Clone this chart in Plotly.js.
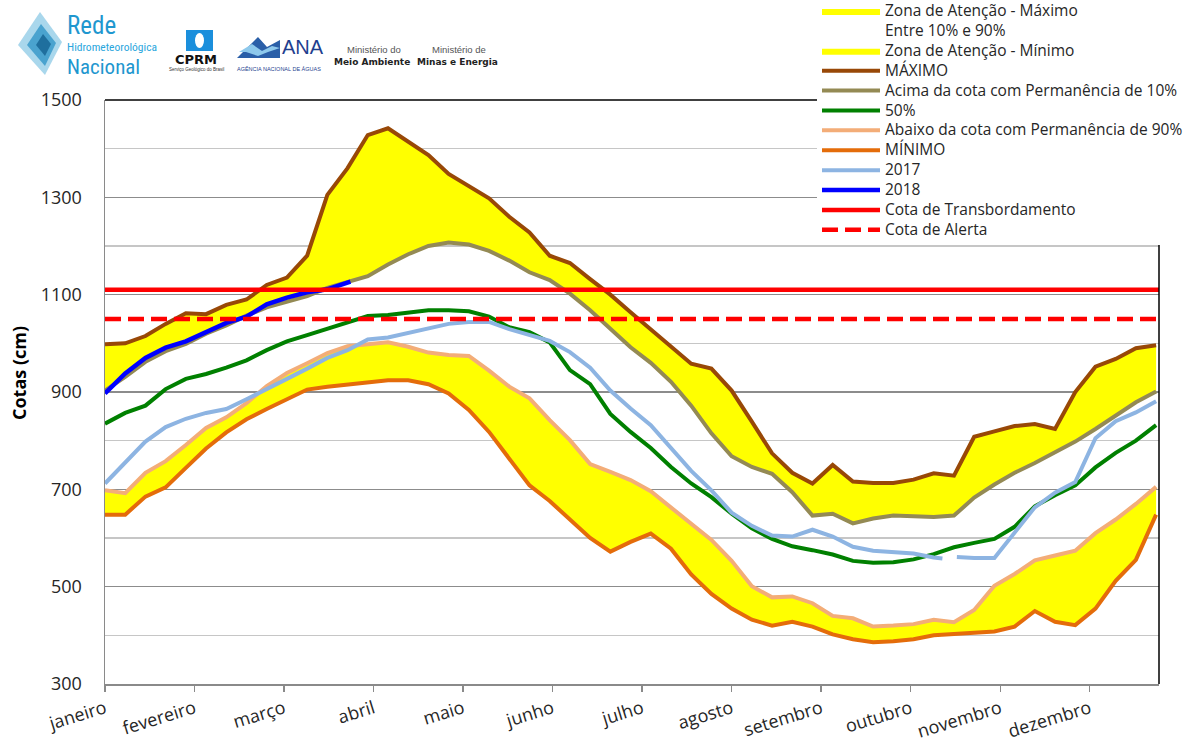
<!DOCTYPE html>
<html>
<head>
<meta charset="utf-8">
<script src="https://cdn.plot.ly/plotly-3.0.1.min.js"></script>
<style>
html,body{margin:0;padding:0;background:#fff;}
#chart{width:1192px;height:747px;}
</style>
</head>
<body>
<div id="chart"></div>
<script>
// ---------- DATA ----------
const MESES = ['janeiro','fevereiro','março','abril','maio','junho','julho','agosto','setembro','outubro','novembro','dezembro'];
const TICK_DIAS = [0,31,62,93,124,155,186,217,248,279,310,341];
const Y_TICKS = [300,500,700,900,1100,1300,1500];

const DIAS = [0,7,14,21,28,35,42,49,56,63,70,77,84,91,98,105,112,119,126,133,140,147,154,161,168,175,182,189,196,203,210,217,224,231,238,245,252,259,266,273,280,287,294,301,308,315,322,329,336,343,350,357,364];

const MAXIMO = [998,1000,1015,1040,1062,1060,1079,1090,1120,1135,1180,1305,1360,1428,1442,1415,1387,1348,1322,1298,1260,1228,1180,1165,1132,1100,1064,1028,993,958,948,903,839,774,734,712,750,716,713,713,720,733,728,808,819,830,834,824,900,952,968,990,996];
const PERM_10 = [903,931,962,984,999,1020,1037,1057,1074,1086,1097,1114,1125,1138,1162,1183,1200,1207,1203,1190,1170,1146,1130,1102,1068,1031,992,960,921,872,815,768,746,732,694,646,650,630,640,646,645,643,646,683,710,734,754,777,798,824,852,879,901];
const PERM_50 = [835,857,872,906,927,937,950,965,986,1004,1017,1030,1045,1056,1058,1064,1068,1068,1066,1055,1033,1023,1002,945,916,855,818,785,746,712,684,650,620,598,583,575,566,553,549,550,556,567,581,590,598,623,665,688,708,745,775,800,832];
const PERM_90 = [698,692,734,758,791,826,848,877,912,939,959,980,994,999,1002,993,981,976,974,944,911,887,842,801,752,736,719,696,662,628,596,553,501,478,480,466,440,435,418,420,423,432,427,452,502,526,554,564,574,610,638,670,705];
const MINIMO = [648,648,685,704,744,784,817,844,865,885,905,911,916,920,924,924,916,897,863,818,763,708,676,638,600,572,592,609,578,525,485,455,432,420,428,418,402,392,386,388,392,400,403,406,408,418,450,428,421,455,512,555,648];

const DIAS_2017 = [0,7,14,21,28,35,42,49,56,63,70,77,84,91,98,105,112,119,126,133,140,147,154,161,168,175,182,189,196,203,210,217,224,231,238,245,252,259,266,273,280,287,290,292,295,301,308,315,322,329,336,343,350,357,364];
const ANO_2017 = [712,755,798,828,845,857,865,885,905,927,948,970,986,1008,1012,1022,1031,1040,1044,1044,1029,1018,1005,982,950,903,866,832,786,738,698,652,625,605,603,617,603,582,574,572,568,560,558,null,561,559,559,612,663,693,715,805,840,858,881];

const DIAS_2018 = [0,7,14,21,28,35,42,49,56,63,70,77,84,85];
const ANO_2018 = [897,938,970,991,1004,1022,1042,1055,1080,1094,1105,1111,1124,1127];

const DIAS_LIMITES = [0,365];
const COTA_TRANSBORDAMENTO = [1110,1110];
const COTA_ALERTA = [1050,1050];

// ---------- HELPERS ----------
const FONT = 'Open Sans, sans-serif';
const L = s => '<span style="font-size:15.5px">' + s + '</span>';
function band(upper, lower){
  return { x: DIAS.concat(DIAS.slice().reverse()), y: upper.concat(lower.slice().reverse()) };
}
// page-pixel -> paper helpers for decorations (logos, legend position)
const PL = 105, PW = 1054, PT = 100, PH = 584;
const PX = x => (x - PL) / PW;
const PY = y => (PT + PH - y) / PH;
function pathPx(pts){
  return 'M' + pts.map(p => PX(p[0]).toFixed(5) + ',' + PY(p[1]).toFixed(5)).join('L') + 'Z';
}

// ---------- TRACES ----------
const bMax = band(MAXIMO, PERM_10);
const bMid = band(PERM_10, PERM_90);
const bMin = band(PERM_90, MINIMO);

const traces = [
  {x:bMax.x, y:bMax.y, type:'scatter', mode:'lines', fill:'toself', fillcolor:'#ffff00', line:{width:0,color:'#ffff00'}, name:L('Zona de Atenção - Máximo'), hoverinfo:'skip'},
  {x:bMid.x, y:bMid.y, type:'scatter', mode:'lines', fill:'toself', fillcolor:'rgba(255,255,255,0)', line:{width:0,color:'rgba(255,255,255,0)'}, name:L('Entre 10% e 90%'), hoverinfo:'skip'},
  {x:bMin.x, y:bMin.y, type:'scatter', mode:'lines', fill:'toself', fillcolor:'#ffff00', line:{width:0,color:'#ffff00'}, name:L('Zona de Atenção - Mínimo'), hoverinfo:'skip'},
  {x:DIAS, y:MAXIMO, type:'scatter', mode:'lines', line:{color:'#984807', width:4}, name:L('MÁXIMO')},
  {x:DIAS, y:PERM_10, type:'scatter', mode:'lines', line:{color:'#948a54', width:4}, name:L('Acima da cota com Permanência de 10%')},
  {x:DIAS, y:PERM_50, type:'scatter', mode:'lines', line:{color:'#008000', width:4}, name:L('50%')},
  {x:DIAS, y:PERM_90, type:'scatter', mode:'lines', line:{color:'#f3ad78', width:4}, name:L('Abaixo da cota com Permanência de 90%')},
  {x:DIAS, y:MINIMO, type:'scatter', mode:'lines', line:{color:'#e46c0a', width:4}, name:L('MÍNIMO')},
  {x:DIAS_2017, y:ANO_2017, type:'scatter', mode:'lines', line:{color:'#8db4e2', width:4}, name:L('2017'), connectgaps:false},
  {x:DIAS_2018, y:ANO_2018, type:'scatter', mode:'lines', line:{color:'#0000ff', width:4.5}, name:L('2018')},
  {x:DIAS_LIMITES, y:COTA_TRANSBORDAMENTO, type:'scatter', mode:'lines', line:{color:'#ff0000', width:4.5}, name:L('Cota de Transbordamento')},
  {x:DIAS_LIMITES, y:COTA_ALERTA, type:'scatter', mode:'lines', line:{color:'#ff0000', width:4.5, dash:'16px,7px'}, name:L('Cota de Alerta')}
];

// ---------- LOGOS (decoration) ----------
const NARROW = 'Liberation Sans Narrow, Roboto Condensed, Arial Narrow, sans-serif';
const ann = (x, y, text, size, color, opts) => Object.assign({
  xref:'paper', yref:'paper', x:PX(x), y:PY(y), text:text, showarrow:false,
  xanchor:'left', yanchor:'middle', borderpad:0, font:{family:NARROW, size:size, color:color}
}, opts || {});

const annotations = [
  ann(66, 25, 'Rede', 25, '#1f97cf'),
  ann(66, 47.5, 'Hidrometeorológica', 11.5, '#2aa6dd'),
  ann(66, 67, 'Nacional', 21, '#1f97cf'),
  ann(196, 60, '<b>CPRM</b>', 14, '#111', {xanchor:'center', font:{family:'DejaVu Sans, sans-serif', size:13, color:'#111'}}),
  ann(196, 70, 'Serviço Geológico do Brasil', 4.5, '#333', {xanchor:'center', font:{family:'Liberation Sans, sans-serif', size:4.5, color:'#333'}}),
  ann(281, 47, 'ANA', 20, '#1f3f8f', {font:{family:'Liberation Sans, sans-serif', size:20, color:'#1f3f8f'}}),
  ann(279, 69, 'AGÊNCIA NACIONAL DE ÁGUAS', 5.5, '#1f3f8f', {xanchor:'center', font:{family:'Liberation Sans, sans-serif', size:5.5, color:'#1f3f8f'}}),
  ann(374, 50, 'Ministério do', 9.5, '#555', {xanchor:'center', font:{family:'Liberation Sans, sans-serif', size:9.5, color:'#555'}}),
  ann(372, 62, '<b>Meio Ambiente</b>', 9.5, '#222', {xanchor:'center', font:{family:'DejaVu Sans, sans-serif', size:9, color:'#222'}}),
  ann(459, 50, 'Ministério de', 9.5, '#555', {xanchor:'center', font:{family:'Liberation Sans, sans-serif', size:9.5, color:'#555'}}),
  ann(457, 62, '<b>Minas e Energia</b>', 9.5, '#222', {xanchor:'center', font:{family:'DejaVu Sans, sans-serif', size:9, color:'#222'}}),
  // y-axis title (placed as in the reference, slightly above the axis centre)
  ann(19, 373, '<b>Cotas (cm)</b>', 18, '#000', {xanchor:'center', textangle:-90, font:{family:FONT, size:18, color:'#000'}})
];

const shapes = [
  // Rede logo diamond
  {type:'path', xref:'paper', yref:'paper', path:pathPx([[40,12],[62,42],[45,75],[18,45]]), fillcolor:'#a9d7ec', line:{width:0}},
  {type:'path', xref:'paper', yref:'paper', path:pathPx([[41,24],[56,43],[45,66],[27,45]]), fillcolor:'#4aa3cf', line:{width:0}},
  {type:'path', xref:'paper', yref:'paper', path:pathPx([[43,34],[51,44],[45,56],[36,45]]), fillcolor:'#1f6f9e', line:{width:0}},
  // CPRM icon
  {type:'rect', xref:'paper', yref:'paper', x0:PX(186), x1:PX(213), y0:PY(51), y1:PY(30), fillcolor:'#1b8fdc', line:{width:0}},
  {type:'circle', xref:'paper', yref:'paper', x0:PX(195), x1:PX(204), y0:PY(48), y1:PY(33), fillcolor:'#ffffff', line:{width:0}},
  // ANA logo
  {type:'path', xref:'paper', yref:'paper', path:pathPx([[237,58],[258,37],[267,47],[280,40],[280,58]]), fillcolor:'#2a5fa8', line:{width:0}},
  {type:'path', xref:'paper', yref:'paper', path:pathPx([[239,52],[252,44],[262,51],[272,46],[280,48],[268,52],[258,56],[246,52]]), fillcolor:'#8ec9ec', line:{width:0}},
  // top and right frame lines of the plot
  {type:'line', xref:'paper', yref:'paper', x0:0, x1:1, y0:1, y1:1, line:{color:'#000', width:1.5}, layer:'above'},
  {type:'line', xref:'paper', yref:'paper', x0:1, x1:1, y0:0, y1:1, line:{color:'#000', width:1.5}, layer:'above'}
];

const layout = {
  width:1192, height:747,
  margin:{l:PL, r:1192-PL-PW, t:PT, b:747-PT-PH, pad:0, autoexpand:false},
  paper_bgcolor:'#ffffff', plot_bgcolor:'#ffffff',
  font:{family:FONT, color:'#262626'},
  showlegend:true,
  legend:{
    x:PX(817), y:PY(-4), xanchor:'left', yanchor:'top',
    bgcolor:'#ffffff', borderwidth:0, itemwidth:58, tracegroupgap:0,
    font:{family:FONT, size:13, color:'#262626'}
  },
  xaxis:{
    range:[0,365], tickmode:'array', tickvals:TICK_DIAS, ticktext:MESES,
    tickangle:-17, ticks:'outside', ticklen:6, tickcolor:'#8a8a8a', tickwidth:1.3,
    showline:true, linecolor:'#8a8a8a', linewidth:1.5, showgrid:false, zeroline:false,
    tickfont:{family:FONT, size:18, color:'#262626'}, fixedrange:true
  },
  yaxis:{
    range:[300,1500], tickmode:'array', tickvals:Y_TICKS,
    showgrid:true, gridcolor:'#8c8c8c', gridwidth:1.3,
    minor:{dtick:100, tick0:300, showgrid:true, gridcolor:'#c6c6c6', gridwidth:1.3, ticks:''},
    showline:true, linecolor:'#8a8a8a', linewidth:1.5, zeroline:false, ticks:'',
    ticklabelstandoff:18,
    tickfont:{family:FONT, size:18, color:'#262626'},
    fixedrange:true
  },
  annotations:annotations,
  shapes:shapes
};

Plotly.newPlot('chart', traces, layout, {displayModeBar:false, staticPlot:true});
</script>
</body>
</html>
